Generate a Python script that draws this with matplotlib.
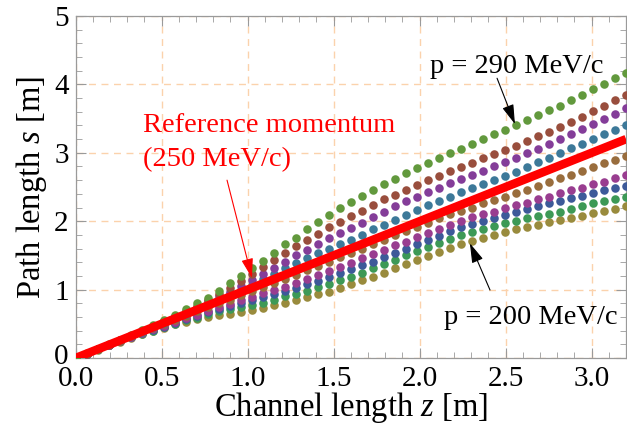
import numpy as np
import matplotlib
matplotlib.use("Agg")
import matplotlib.pyplot as plt
from matplotlib.transforms import ScaledTranslation

# ==========================
# DATA
# ==========================

# channel positions of the dots, 0.064 m apart
z = [0.000, 0.064, 0.128, 0.192, 0.256, 0.320, 0.384, 0.448, 0.512, 0.576,
     0.640, 0.704, 0.768, 0.832, 0.896, 0.960, 1.024, 1.088, 1.152, 1.216,
     1.280, 1.344, 1.408, 1.472, 1.536, 1.600, 1.664, 1.728, 1.792, 1.856,
     1.920, 1.984, 2.048, 2.112, 2.176, 2.240, 2.304, 2.368, 2.432, 2.496,
     2.560, 2.624, 2.688, 2.752, 2.816, 2.880, 2.944, 3.008, 3.072, 3.136,
     3.200]

s_200 = [0, .062, .123, .183, .240, .295, .350, .400, .445, .490,
         .530, .565, .600, .625, .650, .675, .700, .735, .770, .810,
         .850, .890, .930, .970, 1.03, 1.08, 1.135, 1.19, 1.25, 1.31,
         1.37, 1.43, 1.49, 1.55, 1.61, 1.665, 1.71, 1.755, 1.80, 1.84,
         1.88, 1.915, 1.95, 1.985, 2.02, 2.05, 2.08, 2.115, 2.15, 2.185,
         2.22]

s_210 = [0, .063, .125, .186, .245, .303, .358, .400, .450, .500,
         .550, .590, .645, .680, .720, .750, .775, .810, .855, .900,
         .940, .985, 1.035, 1.085, 1.135, 1.19, 1.25, 1.31, 1.37, 1.435,
         1.50, 1.56, 1.62, 1.68, 1.735, 1.795, 1.845, 1.89, 1.935, 1.97,
         2.01, 2.04, 2.08, 2.11, 2.14, 2.18, 2.22, 2.26, 2.29, 2.33,
         2.36]

s_220 = [0, .063, .126, .188, .248, .308, .364, .410, .460, .510,
         .570, .620, .670, .715, .760, .800, .845, .890, .935, .980,
         1.03, 1.08, 1.13, 1.185, 1.24, 1.295, 1.355, 1.41, 1.47, 1.535,
         1.60, 1.665, 1.73, 1.79, 1.85, 1.91, 1.955, 2.005, 2.05, 2.09,
         2.14, 2.18, 2.22, 2.26, 2.30, 2.34, 2.37, 2.41, 2.45, 2.48,
         2.51]

s_230 = [0, .064, .127, .190, .252, .312, .370, .420, .475, .530,
         .580, .635, .688, .740, .795, .845, .895, .945, .995, 1.045,
         1.10, 1.155, 1.21, 1.265, 1.325, 1.39, 1.455, 1.52, 1.58, 1.645,
         1.70, 1.765, 1.83, 1.89, 1.95, 2.01, 2.06, 2.10, 2.14, 2.19,
         2.23, 2.27, 2.32, 2.36, 2.41, 2.45, 2.49, 2.54, 2.58, 2.63,
         2.67]

s_240 = [0, .064, .128, .191, .255, .318, .381, .440, .500, .560,
         .620, .680, .740, .800, .855, .915, .975, 1.035, 1.095, 1.155,
         1.22, 1.285, 1.35, 1.41, 1.475, 1.54, 1.60, 1.665, 1.73, 1.795,
         1.86, 1.92, 1.98, 2.04, 2.10, 2.15, 2.20, 2.26, 2.31, 2.35,
         2.41, 2.46, 2.52, 2.57, 2.63, 2.68, 2.74, 2.79, 2.85, 2.90,
         2.95]

s_260 = [0, .064, .128, .192, .257, .321, .386, .452, .517, .583,
         .650, .717, .790, .860, .930, 1.00, 1.07, 1.15, 1.23, 1.31,
         1.39, 1.46, 1.53, 1.59, 1.66, 1.73, 1.80, 1.88, 1.95, 2.02,
         2.09, 2.16, 2.23, 2.29, 2.36, 2.42, 2.48, 2.54, 2.60, 2.66,
         2.72, 2.79, 2.86, 2.92, 2.99, 3.07, 3.13, 3.20, 3.27, 3.34,
         3.41]

s_270 = [0, .064, .129, .194, .259, .325, .391, .460, .525, .595,
         .665, .735, .830, .900, .970, 1.05, 1.14, 1.23, 1.32, 1.41,
         1.50, 1.58, 1.67, 1.75, 1.83, 1.90, 1.98, 2.06, 2.14, 2.22,
         2.29, 2.36, 2.43, 2.49, 2.56, 2.62, 2.68, 2.74, 2.80, 2.86,
         2.92, 2.99, 3.06, 3.13, 3.20, 3.28, 3.35, 3.42, 3.50, 3.57,
         3.65]

s_280 = [0, .065, .130, .196, .262, .329, .396, .468, .540, .610,
         .685, .760, .850, .940, 1.03, 1.13, 1.23, 1.33, 1.43, 1.53,
         1.64, 1.73, 1.82, 1.91, 1.99, 2.07, 2.15, 2.24, 2.32, 2.39,
         2.46, 2.53, 2.60, 2.66, 2.73, 2.79, 2.85, 2.92, 2.98, 3.04,
         3.10, 3.17, 3.24, 3.31, 3.38, 3.45, 3.53, 3.61, 3.69, 3.77,
         3.85]

s_290 = [0, .066, .132, .199, .266, .335, .405, .480, .560, .630,
         .715, .800, .880, .980, 1.09, 1.20, 1.31, 1.42, 1.54, 1.66,
         1.76, 1.88, 1.99, 2.09, 2.19, 2.28, 2.37, 2.45, 2.54, 2.62,
         2.70, 2.78, 2.85, 2.92, 2.99, 3.06, 3.13, 3.20, 3.27, 3.34,
         3.41, 3.48, 3.55, 3.62, 3.69, 3.77, 3.85, 3.93, 4.01, 4.09,
         4.17]

# reference momentum (250 MeV/c) line
z_ref = [0.0, 3.2]
s_ref = [0.0, 3.2]

momenta = [200, 210, 220, 230, 240, 260, 270, 280, 290]
series = [s_200, s_210, s_220, s_230, s_240, s_260, s_270, s_280, s_290]
colors = [
    (0.6, 0.547, 0.24),
    (0.24, 0.6, 0.337),
    (0.24, 0.353, 0.6),
    (0.6, 0.24, 0.563),
    (0.6, 0.427, 0.24),
    (0.24, 0.474, 0.6),
    (0.516, 0.24, 0.6),
    (0.6, 0.306, 0.24),
    (0.385, 0.6, 0.24),
]

# ==========================
# STYLE
# ==========================

plt.rcParams["font.family"] = ["Liberation Serif", "DejaVu Serif"]
plt.rcParams["mathtext.fontset"] = "custom"
plt.rcParams["mathtext.rm"] = "Liberation Serif"
plt.rcParams["mathtext.it"] = "Liberation Serif:italic"

frame_col = "#9a9a9a"
grid_col = "#fbd2ac"

fig = plt.figure(figsize=(6.27, 4.34), dpi=100)
ax = fig.add_axes([0.1207, 0.1751, 0.8778, 0.788])

# ==========================
# CHART
# ==========================

for p, s, c in zip(momenta, series, colors):
    ax.scatter(z, s, s=38, color=c, linewidths=0, zorder=3)

ax.plot(z_ref, s_ref, color="red", lw=6.2, solid_capstyle="butt", zorder=4)

ax.set_xlim(0, 3.2)
ax.set_ylim(0, 5)

ax.set_xticks(np.arange(0, 3.01, 0.5))
ax.set_xticks(np.arange(0, 3.21, 0.1), minor=True)
ax.set_yticks(range(0, 6))
ax.set_yticks(np.arange(0, 5.01, 0.2), minor=True)
ax.set_xticklabels(["0.0", "0.5", "1.0", "1.5", "2.0", "2.5", "3.0"])

ax.tick_params(which="both", direction="in", top=True, right=True,
               color=frame_col, labelsize=21)
ax.tick_params(axis="x", pad=5.5)
ax.tick_params(axis="y", pad=5)
ax.tick_params(which="major", length=7, width=0.8)
ax.tick_params(which="minor", length=4, width=0.6)

# lift the y "0" a touch so it only touches the x "0.0"
zero_lbl = ax.get_yticklabels()[0]
zero_lbl.set_transform(zero_lbl.get_transform() +
                       ScaledTranslation(0, 3 / 72, fig.dpi_scale_trans))

for sp in ax.spines.values():
    sp.set_color(frame_col)
    sp.set_linewidth(0.9)

ax.grid(True, which="major", color=grid_col, linestyle=(0, (5, 4)), lw=1)
ax.set_axisbelow(True)

ax.set_xlabel("Channel length $z$ [m]", fontsize=23.5, labelpad=-1)
ax.set_ylabel("Path length $s$ [m]", fontsize=23.5, labelpad=4)

# ==========================
# ANNOTATIONS
# ==========================

head = "-|>,head_length=0.6,head_width=0.18"

ax.text(2.563, 4.16, "p = 290 MeV/c", ha="center", va="baseline", fontsize=20.5)
ax.annotate("", xy=(2.554, 3.42), xytext=(2.45, 4.09),
            arrowprops=dict(arrowstyle=head, color="black", lw=0.8,
                            mutation_scale=20, shrinkA=0, shrinkB=0))

ax.text(2.646, 0.50, "p = 200 MeV/c", ha="center", va="baseline", fontsize=20.5)
ax.annotate("", xy=(2.292, 1.677), xytext=(2.409, 0.994),
            arrowprops=dict(arrowstyle=head, color="black", lw=0.8,
                            mutation_scale=20, shrinkA=0, shrinkB=0))

ax.text(0.393, 3.31, "Reference momentum", color="red", fontsize=20.5,
        ha="left", va="baseline")
ax.text(0.393, 2.80, "(250 MeV/c)", color="red", fontsize=20.5,
        ha="left", va="baseline")
ax.annotate("", xy=(1.025, 1.17), xytext=(0.88, 2.60),
            arrowprops=dict(arrowstyle=head, color="red", lw=0.8,
                            mutation_scale=20, shrinkA=0, shrinkB=0),
            zorder=5)

plt.savefig("out.png", dpi=100)
